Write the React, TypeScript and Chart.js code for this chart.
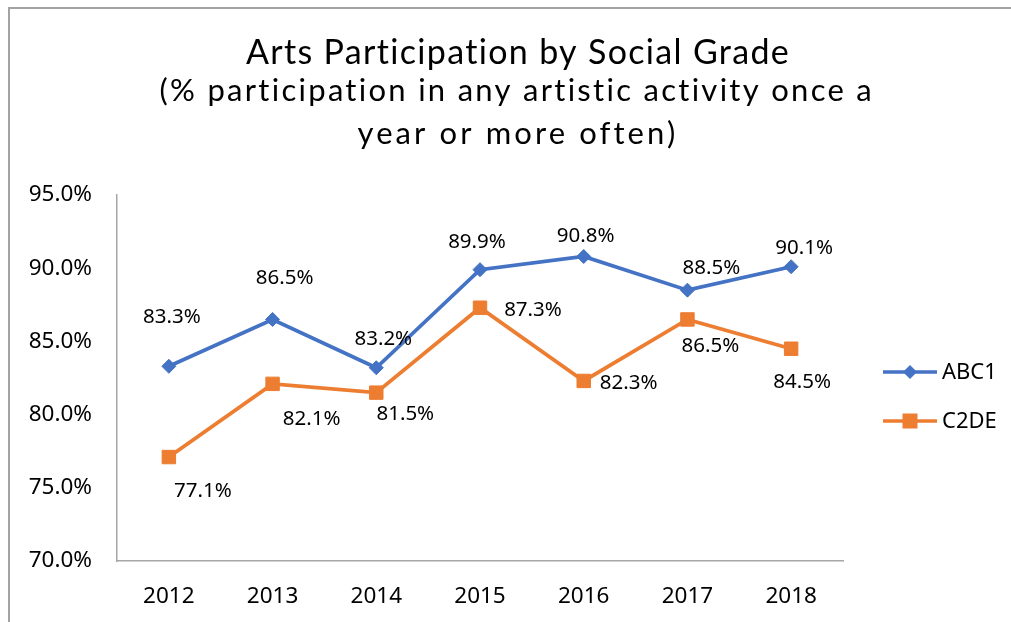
import React, { useEffect, useRef } from 'react';
import { Chart, registerables } from 'chart.js';

Chart.register(...registerables);

// ---- data ----
const categories = ['2012', '2013', '2014', '2015', '2016', '2017', '2018'];
const abc1Values = [83.3, 86.5, 83.2, 89.9, 90.8, 88.5, 90.1];
const c2deValues = [77.1, 82.1, 81.5, 87.3, 82.3, 86.5, 84.5];
const seriesNames = ['ABC1', 'C2DE'];
const yMin = 70;
const yMax = 95;
const yStep = 5;
const titleText = 'Arts Participation by Social Grade';
const subtitleLines = ['(% participation in any artistic activity once a', 'year or more often)'];

// ---- style ----
const BLUE = '#4472C4';
const ORANGE = '#ED7D31';
const AXIS_GREY = '#a6a6a6';
const TEXT_FONT = '"Noto Sans", "Open Sans", sans-serif';
const TITLE_FONT = 'Lato, "Noto Sans", sans-serif';

// data label placement offsets (pixels relative to the point)
const abc1LabelOffsets = [[3, -49], [12, -41], [7, -29], [-3, -28], [2, -20], [24, -22], [13, -19]];
const c2deLabelOffsets = [[34, 34], [39, 35], [29, 22], [53, 2], [45, 2], [23, 27], [11, 33]];

const framePlugin = {
  id: 'frame',
  beforeDraw(chart: any) {
    const ctx = chart.ctx;
    ctx.save();
    ctx.fillStyle = '#ffffff';
    ctx.fillRect(0, 0, chart.width, chart.height);
    ctx.strokeStyle = '#a3a3a3';
    ctx.lineWidth = 2;
    ctx.beginPath();
    ctx.moveTo(9, chart.height);
    ctx.lineTo(9, 8);
    ctx.lineTo(chart.width, 8);
    ctx.stroke();
    ctx.restore();
  },
};

function fitText(ctx: any, text: string, cx: number, baseline: number, targetWidth: number) {
  ctx.save();
  ctx.letterSpacing = '0px';
  const w = ctx.measureText(text).width;
  ctx.textAlign = 'left';
  ctx.textBaseline = 'alphabetic';
  if (targetWidth >= w) {
    const sp = (targetWidth - w) / Math.max(1, text.length - 1);
    ctx.letterSpacing = `${sp.toFixed(2)}px`;
    ctx.fillText(text, cx - targetWidth / 2, baseline);
  } else {
    const sx = targetWidth / w;
    ctx.translate(cx - targetWidth / 2, baseline);
    ctx.scale(sx, 1);
    ctx.fillText(text, 0, 0);
  }
  ctx.restore();
}

const titlePlugin = {
  id: 'customTitle',
  afterDraw(chart: any) {
    const ctx = chart.ctx;
    ctx.save();
    ctx.fillStyle = '#000000';
    ctx.font = `34px ${TITLE_FONT}`;
    fitText(ctx, titleText, 518, 64, 544);
    ctx.font = `31px ${TITLE_FONT}`;
    fitText(ctx, subtitleLines[0], 517, 101, 715);
    fitText(ctx, subtitleLines[1], 516, 144, 317);
    ctx.restore();
  },
};

const dataLabelPlugin = {
  id: 'pointLabels',
  afterDatasetsDraw(chart: any) {
    const ctx = chart.ctx;
    const offsets = [abc1LabelOffsets, c2deLabelOffsets];
    ctx.save();
    ctx.fillStyle = '#000000';
    ctx.font = `20.5px ${TEXT_FONT}`;
    ctx.textAlign = 'center';
    ctx.textBaseline = 'middle';
    chart.data.datasets.forEach((ds: any, di: number) => {
      const meta = chart.getDatasetMeta(di);
      meta.data.forEach((pt: any, i: number) => {
        const v = ds.data[i] as number;
        const [dx, dy] = offsets[di][i];
        ctx.fillText(v.toFixed(1) + '%', pt.x + dx, pt.y + dy);
      });
    });
    ctx.restore();
  },
};

const legendPlugin = {
  id: 'customLegend',
  afterDraw(chart: any) {
    const ctx = chart.ctx;
    const rows = [
      { name: seriesNames[0], color: BLUE, style: 'diamond', y: 372 },
      { name: seriesNames[1], color: ORANGE, style: 'square', y: 421 },
    ];
    ctx.save();
    rows.forEach((r) => {
      ctx.strokeStyle = r.color;
      ctx.fillStyle = r.color;
      ctx.lineWidth = 3.5;
      ctx.beginPath();
      ctx.moveTo(883, r.y);
      ctx.lineTo(937, r.y);
      ctx.stroke();
      const cx = 910;
      ctx.beginPath();
      if (r.style === 'diamond') {
        const s = 7;
        ctx.moveTo(cx, r.y - s);
        ctx.lineTo(cx + s, r.y);
        ctx.lineTo(cx, r.y + s);
        ctx.lineTo(cx - s, r.y);
        ctx.closePath();
      } else {
        const s = 7.5;
        ctx.rect(cx - s, r.y - s, 2 * s, 2 * s);
      }
      ctx.fill();
      ctx.fillStyle = '#000000';
      ctx.font = `22px ${TEXT_FONT}`;
      ctx.textAlign = 'left';
      ctx.textBaseline = 'middle';
      ctx.fillText(r.name, 942, r.y + 1);
    });
    ctx.restore();
  },
};

export default function App() {
  const canvasRef = useRef<HTMLCanvasElement | null>(null);

  useEffect(() => {
    const canvas = canvasRef.current;
    if (!canvas) return;
    const chart = new Chart(canvas, {
      type: 'line',
      data: {
        labels: categories,
        datasets: [
          {
            label: seriesNames[0],
            data: abc1Values,
            borderColor: BLUE,
            backgroundColor: BLUE,
            borderWidth: 3.75,
            tension: 0,
            pointStyle: 'rectRot',
            pointRadius: 7,
            pointBorderWidth: 1,
            pointBackgroundColor: BLUE,
            pointBorderColor: BLUE,
          },
          {
            label: seriesNames[1],
            data: c2deValues,
            borderColor: ORANGE,
            backgroundColor: ORANGE,
            borderWidth: 3.75,
            tension: 0,
            pointStyle: 'rect',
            pointRadius: 9.5,
            pointBorderWidth: 1,
            pointBackgroundColor: ORANGE,
            pointBorderColor: ORANGE,
          },
        ],
      },
      options: {
        responsive: false,
        animation: false,
        events: [],
        layout: { padding: { top: 195, right: 168, left: 0, bottom: 0 } },
        plugins: {
          legend: { display: false },
          title: { display: false },
          tooltip: { enabled: false },
        },
        scales: {
          x: {
            type: 'category',
            offset: true,
            grid: { display: false, drawTicks: false },
            border: { display: true, color: AXIS_GREY, width: 1.5 },
            ticks: {
              color: '#000000',
              font: { family: TEXT_FONT, size: 22.5 },
              padding: 22,
              maxRotation: 0,
            },
            afterFit: (s: any) => {
              s.height = 61;
            },
          },
          y: {
            min: yMin,
            max: yMax,
            grid: { display: false, drawTicks: false },
            border: { display: true, color: AXIS_GREY, width: 1.5 },
            ticks: {
              stepSize: yStep,
              color: '#000000',
              font: { family: TEXT_FONT, size: 22.5 },
              padding: 25,
              callback: (v: any) => Number(v).toFixed(1) + '%',
            },
            afterFit: (s: any) => {
              s.width = 117;
            },
          },
        },
      },
      plugins: [framePlugin, dataLabelPlugin, legendPlugin, titlePlugin],
    });
    return () => chart.destroy();
  }, []);

  return (
    <div style={{ position: 'fixed', left: 0, top: 0, width: 1011, height: 622, overflow: 'hidden', background: '#fff' }}>
      <canvas ref={canvasRef} width={1011} height={622} style={{ display: 'block' }} />
    </div>
  );
}
